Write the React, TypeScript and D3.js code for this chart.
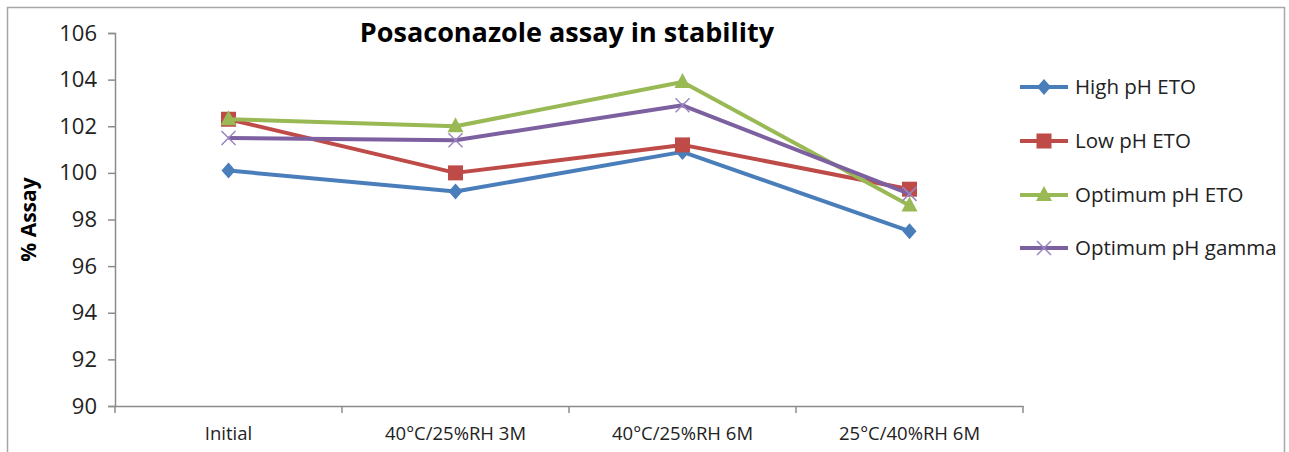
import * as d3 from "d3";
import { useEffect, useRef } from "react";

// chart data
const categories = ["Initial", "40°C/25%RH 3M", "40°C/25%RH 6M", "25°C/40%RH 6M"];
const seriesNames = ["High pH ETO", "Low pH ETO", "Optimum pH ETO", "Optimum pH gamma"];
const highPhEto = [100.1, 99.2, 100.9, 97.5];
const lowPhEto = [102.3, 100.0, 101.2, 99.3];
const optimumPhEto = [102.3, 102.0, 103.9, 98.6];
const optimumPhGamma = [101.5, 101.4, 102.9, 99.1];
const yTicks = [90, 92, 94, 96, 98, 100, 102, 104, 106];

const colors = ["#4a7ebb", "#be4b48", "#98b954", "#7d60a0"];
const markers = ["diamond", "square", "triangle", "cross"];
const FONT = "'Open Sans', 'Liberation Sans', sans-serif";

const W = 1289;
const H = 452;

export default function App() {
  const ref = useRef<SVGSVGElement>(null);

  useEffect(() => {
    const svg = d3.select(ref.current);
    svg.selectAll("*").remove();

    const left = 115;
    const right = 1023;
    const top = 33;
    const bottom = 406;

    // outer frame
    svg
      .append("rect")
      .attr("x", 7.5)
      .attr("y", 7.5)
      .attr("width", 1277)
      .attr("height", 480)
      .attr("fill", "#fff")
      .attr("stroke", "#a6a6a6")
      .attr("stroke-width", 1.5);

    const x = d3.scaleBand().domain(categories).range([left, right]);
    const y = d3.scaleLinear().domain([90, 106]).range([bottom, top]);

    // y axis
    const yAxis = svg
      .append("g")
      .attr("transform", `translate(${left},0)`)
      .call(d3.axisLeft(y).tickValues(yTicks).tickSize(7).tickPadding(11));
    yAxis.select(".domain").attr("stroke", "#8c8c8c").attr("stroke-width", 1.5);
    yAxis.selectAll(".tick line").attr("stroke", "#8c8c8c").attr("stroke-width", 1.5);
    yAxis
      .selectAll("text")
      .attr("font-family", FONT)
      .attr("font-size", 22)
      .attr("fill", "#222");

    // x axis
    const xAxis = svg
      .append("g")
      .attr("transform", `translate(0,${bottom})`)
      .call(d3.axisBottom(x).tickSize(0).tickPadding(21));
    xAxis.select(".domain").attr("stroke", "#8c8c8c").attr("stroke-width", 1.5);
    xAxis
      .selectAll("text")
      .attr("font-family", FONT)
      .attr("font-size", 18.5)
      .attr("fill", "#222");
    // tick marks on band edges
    xAxis
      .selectAll(".edge")
      .data(d3.range(categories.length + 1))
      .enter()
      .append("line")
      .attr("x1", (i) => left + i * x.bandwidth())
      .attr("x2", (i) => left + i * x.bandwidth())
      .attr("y1", 0)
      .attr("y2", 7)
      .attr("stroke", "#8c8c8c")
      .attr("stroke-width", 1.5);

    // title
    svg
      .append("text")
      .attr("x", 567)
      .attr("y", 42)
      .attr("text-anchor", "middle")
      .attr("font-family", FONT)
      .attr("font-weight", "bold")
      .attr("font-size", 27)
      .attr("fill", "#000")
      .text("Posaconazole assay in stability");

    // y title
    svg
      .append("text")
      .attr("transform", `translate(36,${(top + bottom) / 2}) rotate(-90)`)
      .attr("text-anchor", "middle")
      .attr("font-family", FONT)
      .attr("font-weight", "bold")
      .attr("font-size", 21)
      .attr("fill", "#000")
      .text("% Assay");

    const allSeries = [highPhEto, lowPhEto, optimumPhEto, optimumPhGamma];

    const drawMarker = (g: any, kind: string, color: string, cx: number, cy: number) => {
      if (kind === "diamond") {
        g.append("path")
          .attr("d", `M${cx},${cy - 8}L${cx + 7},${cy}L${cx},${cy + 8}L${cx - 7},${cy}Z`)
          .attr("fill", color);
      } else if (kind === "square") {
        g.append("rect")
          .attr("x", cx - 7.5)
          .attr("y", cy - 7.5)
          .attr("width", 15)
          .attr("height", 15)
          .attr("fill", color);
      } else if (kind === "triangle") {
        g.append("path")
          .attr("d", `M${cx},${cy - 9}L${cx + 8},${cy + 6}L${cx - 8},${cy + 6}Z`)
          .attr("fill", color);
      } else {
        g.append("path")
          .attr("d", `M${cx - 7},${cy - 7}L${cx + 7},${cy + 7}M${cx - 7},${cy + 7}L${cx + 7},${cy - 7}`)
          .attr("stroke", "#9a86c0")
          .attr("stroke-width", 1.5)
          .attr("fill", "none");
      }
    };

    const line = d3
      .line<number>()
      .x((_, i) => x(categories[i])! + x.bandwidth() / 2)
      .y((d) => y(d));

    allSeries.forEach((vals, si) => {
      const g = svg.append("g");
      g.append("path")
        .datum(vals)
        .attr("d", line)
        .attr("fill", "none")
        .attr("stroke", colors[si])
        .attr("stroke-width", 4)
        .attr("stroke-linejoin", "round");
      vals.forEach((v, i) => {
        drawMarker(g, markers[si], colors[si], x(categories[i])! + x.bandwidth() / 2, y(v));
      });
    });

    // legend
    const legendRows = [87, 141, 195, 248];
    seriesNames.forEach((name, si) => {
      const g = svg.append("g");
      const ly = legendRows[si];
      g.append("line")
        .attr("x1", 1020)
        .attr("x2", 1068)
        .attr("y1", ly)
        .attr("y2", ly)
        .attr("stroke", colors[si])
        .attr("stroke-width", 4);
      drawMarker(g, markers[si], colors[si], 1044, ly);
      g.append("text")
        .attr("x", 1075)
        .attr("y", ly + 7)
        .attr("font-family", FONT)
        .attr("font-size", 20.5)
        .attr("fill", "#222")
        .text(name);
    });
  }, []);

  return (
    <svg
      ref={ref}
      width={W}
      height={H}
      style={{ position: "absolute", left: 0, top: 0, background: "#fff" }}
    />
  );
}
